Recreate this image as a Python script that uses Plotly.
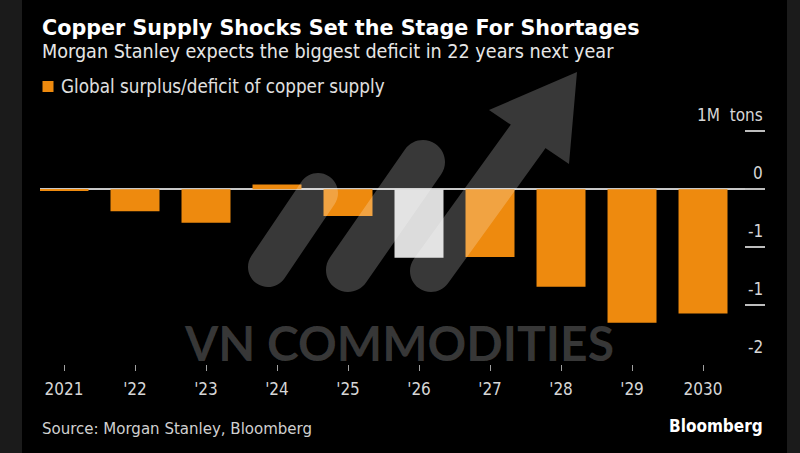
import plotly.graph_objects as go

# ---------------- data ----------------
years = ["2021", "'22", "'23", "'24", "'25", "'26", "'27", "'28", "'29", "2030"]
balance_mt = [-0.01, -0.19, -0.29, 0.04, -0.23, -0.59, -0.585, -0.84, -1.15, -1.07]
highlight_year = "'26"
y_tick_vals = [0.5, 0, -0.5, -1, -1.5]
y_tick_text = ["1M\u00a0\u00a0tons", "0", "-1", "-1", "-2"]

title = "Copper Supply Shocks Set the Stage For Shortages"
subtitle = "Morgan Stanley expects the biggest deficit in 22 years next year"
legend_label = "Global surplus/deficit of copper supply"
source = "Source: Morgan Stanley, Bloomberg"

# ---------------- layout geometry (pixels) ----------------
FW, FH = 800, 453
L, R, T, B = 40, 765, 100, 364
PW, PH = R - L, B - T

def px(x):
    return (x - L) / PW

def py(y):
    return (B - y) / PH

ORANGE = "#EE8A0E"
HILITE = "#DCDCDC"
TXT = "#D6D6D6"
COND = "DejaVu Sans Condensed, DejaVu Sans, sans-serif"
BOLD = "DejaVu Sans, sans-serif"

colors = [HILITE if y == highlight_year else ORANGE for y in years]

fig = go.Figure(
    go.Bar(x=years, y=balance_mt, marker=dict(color=colors, line=dict(width=0)),
           width=0.69, hoverinfo="skip")
)

# ---------------- watermark path ----------------
K = 0.5523

def pill(p1, p2, r):
    (x1, y1), (x2, y2) = p1, p2
    dx, dy = x2 - x1, y2 - y1
    ln = (dx * dx + dy * dy) ** 0.5
    dx, dy = dx / ln, dy / ln
    nx, ny = -dy, dx
    A = (x1 + nx * r, y1 + ny * r)
    Bp = (x2 + nx * r, y2 + ny * r)
    C2 = (x2 + dx * r, y2 + dy * r)
    D = (x2 - nx * r, y2 - ny * r)
    E = (x1 - nx * r, y1 - ny * r)
    F = (x1 - dx * r, y1 - dy * r)
    segs = [("M", [A]), ("L", [Bp]),
            ("C", [(Bp[0] + K * r * dx, Bp[1] + K * r * dy), (C2[0] + K * r * nx, C2[1] + K * r * ny), C2]),
            ("C", [(C2[0] - K * r * nx, C2[1] - K * r * ny), (D[0] + K * r * dx, D[1] + K * r * dy), D]),
            ("L", [E]),
            ("C", [(E[0] - K * r * dx, E[1] - K * r * dy), (F[0] - K * r * nx, F[1] - K * r * ny), F]),
            ("C", [(F[0] + K * r * nx, F[1] + K * r * ny), (A[0] - K * r * dx, A[1] - K * r * dy), A])]
    out = ""
    for cmd, ps in segs:
        out += cmd + " ".join(f"{px(a):.5f},{py(b):.5f}" for a, b in ps) + " "
    return out + "Z "

def poly(points):
    area = 0
    for i in range(len(points)):
        x1, y1 = points[i]
        x2, y2 = points[(i + 1) % len(points)]
        area += x1 * y2 - x2 * y1
    if area > 0:
        points = points[::-1]
    s = "M" + " L".join(f"{px(a):.5f},{py(b):.5f}" for a, b in points)
    return s + " Z "

wm_path = (pill((268, 267), (318, 193), 20)
           + pill((348, 270), (423, 162), 22)
           + pill((431, 271), (527, 138), 21)
           + poly([(577, 72), (489, 110), (569, 164)]))

WM = "rgba(255,255,255,0.22)"

shapes = [
    dict(type="rect", xref="paper", yref="paper", x0=px(0), x1=px(22), y0=py(FH), y1=py(0),
         fillcolor="#1b1b1b", line=dict(width=0), layer="below"),
    dict(type="rect", xref="paper", yref="paper", x0=px(787), x1=px(FW), y0=py(FH), y1=py(0),
         fillcolor="#1b1b1b", line=dict(width=0), layer="below"),
    dict(type="rect", xref="paper", yref="paper", x0=px(42.5), x1=px(53.5), y0=py(92), y1=py(81),
         fillcolor=ORANGE, line=dict(width=0)),
    dict(type="path", xref="paper", yref="paper", path=wm_path, fillcolor=WM,
         fillrule="nonzero", line=dict(width=0), layer="above"),
]

annotations = [
    dict(text=f"<b>{title}</b>", x=px(40), y=py(28), xref="paper", yref="paper",
         xanchor="left", yanchor="middle", showarrow=False,
         font=dict(family=BOLD, size=20.7, color="#FFFFFF")),
    dict(text=subtitle, x=px(40), y=py(51), xref="paper", yref="paper",
         xanchor="left", yanchor="middle", showarrow=False,
         font=dict(family=COND, size=19.6, color="#E6E6E6")),
    dict(text=legend_label, x=px(59), y=py(86), xref="paper", yref="paper",
         xanchor="left", yanchor="middle", showarrow=False,
         font=dict(family=COND, size=18.7, color="#E0E0E0")),
    dict(text=source, x=px(40), y=py(428), xref="paper", yref="paper",
         xanchor="left", yanchor="middle", showarrow=False,
         font=dict(family=COND, size=16.7, color="#D0D0D0")),
    dict(text="<b>Bloomberg</b>", x=px(765), y=py(426), xref="paper", yref="paper",
         xanchor="right", yanchor="middle", showarrow=False,
         font=dict(family=COND, size=17, color="#FFFFFF")),
    dict(text="<b>VN COMMODITIES</b>", x=px(399), y=py(342), xref="paper", yref="paper",
         xanchor="center", yanchor="middle", showarrow=False,
         font=dict(family="Lato, DejaVu Sans, sans-serif", size=48, color=WM)),
]

# right-hand value labels sit above their short tick dashes
for v, t in zip(y_tick_vals, y_tick_text):
    annotations.append(dict(text=t, x=px(765), y=v, xref="paper", yref="y",
                            xanchor="right", yanchor="middle", yshift=16, showarrow=False,
                            font=dict(family=COND, size=17, color=TXT)))

fig.update_layout(
    width=FW, height=FH,
    margin=dict(l=L, r=FW - R, t=T, b=FH - B, pad=0),
    paper_bgcolor="#000000", plot_bgcolor="#000000",
    showlegend=False,
    shapes=shapes, annotations=annotations,
    xaxis=dict(type="category", range=[-0.338, 9.873], showgrid=False, zeroline=False,
               showline=False, ticks="outside", ticklen=6, tickwidth=1, tickcolor="#A0A0A0",
               ticklabelstandoff=4,
               tickfont=dict(family=COND, size=17, color=TXT), fixedrange=True),
    yaxis=dict(side="right", range=[-1.5056, 0.768], tickmode="array",
               tickvals=y_tick_vals, showticklabels=False,
               showgrid=False, zeroline=True, zerolinecolor="#C8C8C8", zerolinewidth=2,
               showline=False, ticks="inside", ticklen=20, tickwidth=1.5, tickcolor="#BDBDBD",
               fixedrange=True),
)

fig.write_html("out.html")
